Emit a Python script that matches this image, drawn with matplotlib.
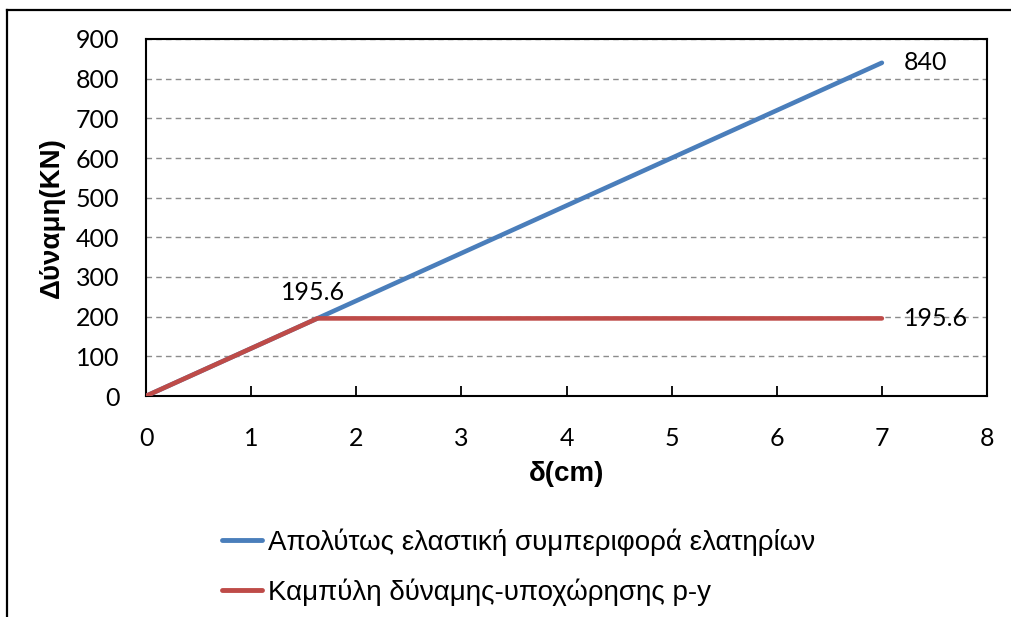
import matplotlib
matplotlib.use("Agg")
import matplotlib.pyplot as plt
from matplotlib.lines import Line2D

# data
elastic_x = [0, 7]
elastic_y = [0, 840]
py_x = [0, 1.63, 7]
py_y = [0, 195.6, 195.6]

elastic_label = "Απολύτως ελαστική συμπεριφορά ελατηρίων"
py_label = "Καμπύλη δύναμης-υποχώρησης p-y"
x_title = "δ(cm)"
y_title = "Δύναμη(KN)"

blue = "#4A7EBB"
red = "#BE4B48"

W, H = 1011, 617
fig = plt.figure(figsize=(W / 100, H / 100), dpi=100)
ax = fig.add_axes([146 / W, 1 - 396 / H, (987 - 146) / W, (396 - 39) / H])

ax.plot(elastic_x, elastic_y, color=blue, lw=3.3, solid_capstyle="round", zorder=3)
ax.plot(py_x, py_y, color=red, lw=3.3, solid_capstyle="round", zorder=4)

ax.set_xlim(0, 8)
ax.set_ylim(0, 900)
ax.set_xticks(range(0, 9))
ax.set_yticks(range(0, 1000, 100))
ax.yaxis.grid(True, color="#8c8c8c", ls=(0, (4, 3)), lw=1)
ax.set_axisbelow(True)

tick_font = "Lato"
fs_tick = 18
for lab in ax.get_xticklabels() + ax.get_yticklabels():
    lab.set_fontfamily(tick_font)
    lab.set_fontsize(fs_tick)
ax.tick_params(axis="x", direction="in", length=7, width=1.3, pad=22)
ax.tick_params(axis="y", length=0, pad=19)
for s in ax.spines.values():
    s.set_linewidth(1.5)

ax.set_xlabel(x_title, fontfamily="Liberation Sans", fontweight="bold", fontsize=20, labelpad=8)
ax.set_ylabel(y_title, fontfamily="Liberation Sans", fontweight="bold", fontsize=20, labelpad=8)

# data labels
ax.annotate(f"{elastic_y[-1]:g}", (elastic_x[-1], elastic_y[-1]), xytext=(16, 0),
            textcoords="offset points", va="center", ha="left", fontfamily=tick_font, fontsize=fs_tick)
ax.annotate(f"{py_y[-1]:g}", (py_x[-1], py_y[-1]), xytext=(16, 0),
            textcoords="offset points", va="center", ha="left", fontfamily=tick_font, fontsize=fs_tick)
ax.annotate(f"{py_y[1]:g}", (py_x[1], py_y[1]), xytext=(-3, 19),
            textcoords="offset points", va="center", ha="center", fontfamily=tick_font, fontsize=fs_tick)

handles = [Line2D([], [], color=blue, lw=3.5, solid_capstyle="round"),
           Line2D([], [], color=red, lw=3.5, solid_capstyle="round")]
fig.legend(handles, [elastic_label, py_label], loc="center left",
           bbox_to_anchor=(197 / W, 1 - 567 / H), frameon=False,
           prop={"family": "Liberation Sans", "size": 20},
           handlelength=1.45, handletextpad=0.2, labelspacing=0.8)

# outer chart border (only top and left visible in the crop)
fig.add_artist(Line2D([6.5 / W, 6.5 / W], [0, 1 - 10 / H], color="black", lw=1.6))
fig.add_artist(Line2D([6.5 / W, 1], [1 - 10 / H, 1 - 10 / H], color="black", lw=1.6))

fig.savefig("out.png", dpi=100)
